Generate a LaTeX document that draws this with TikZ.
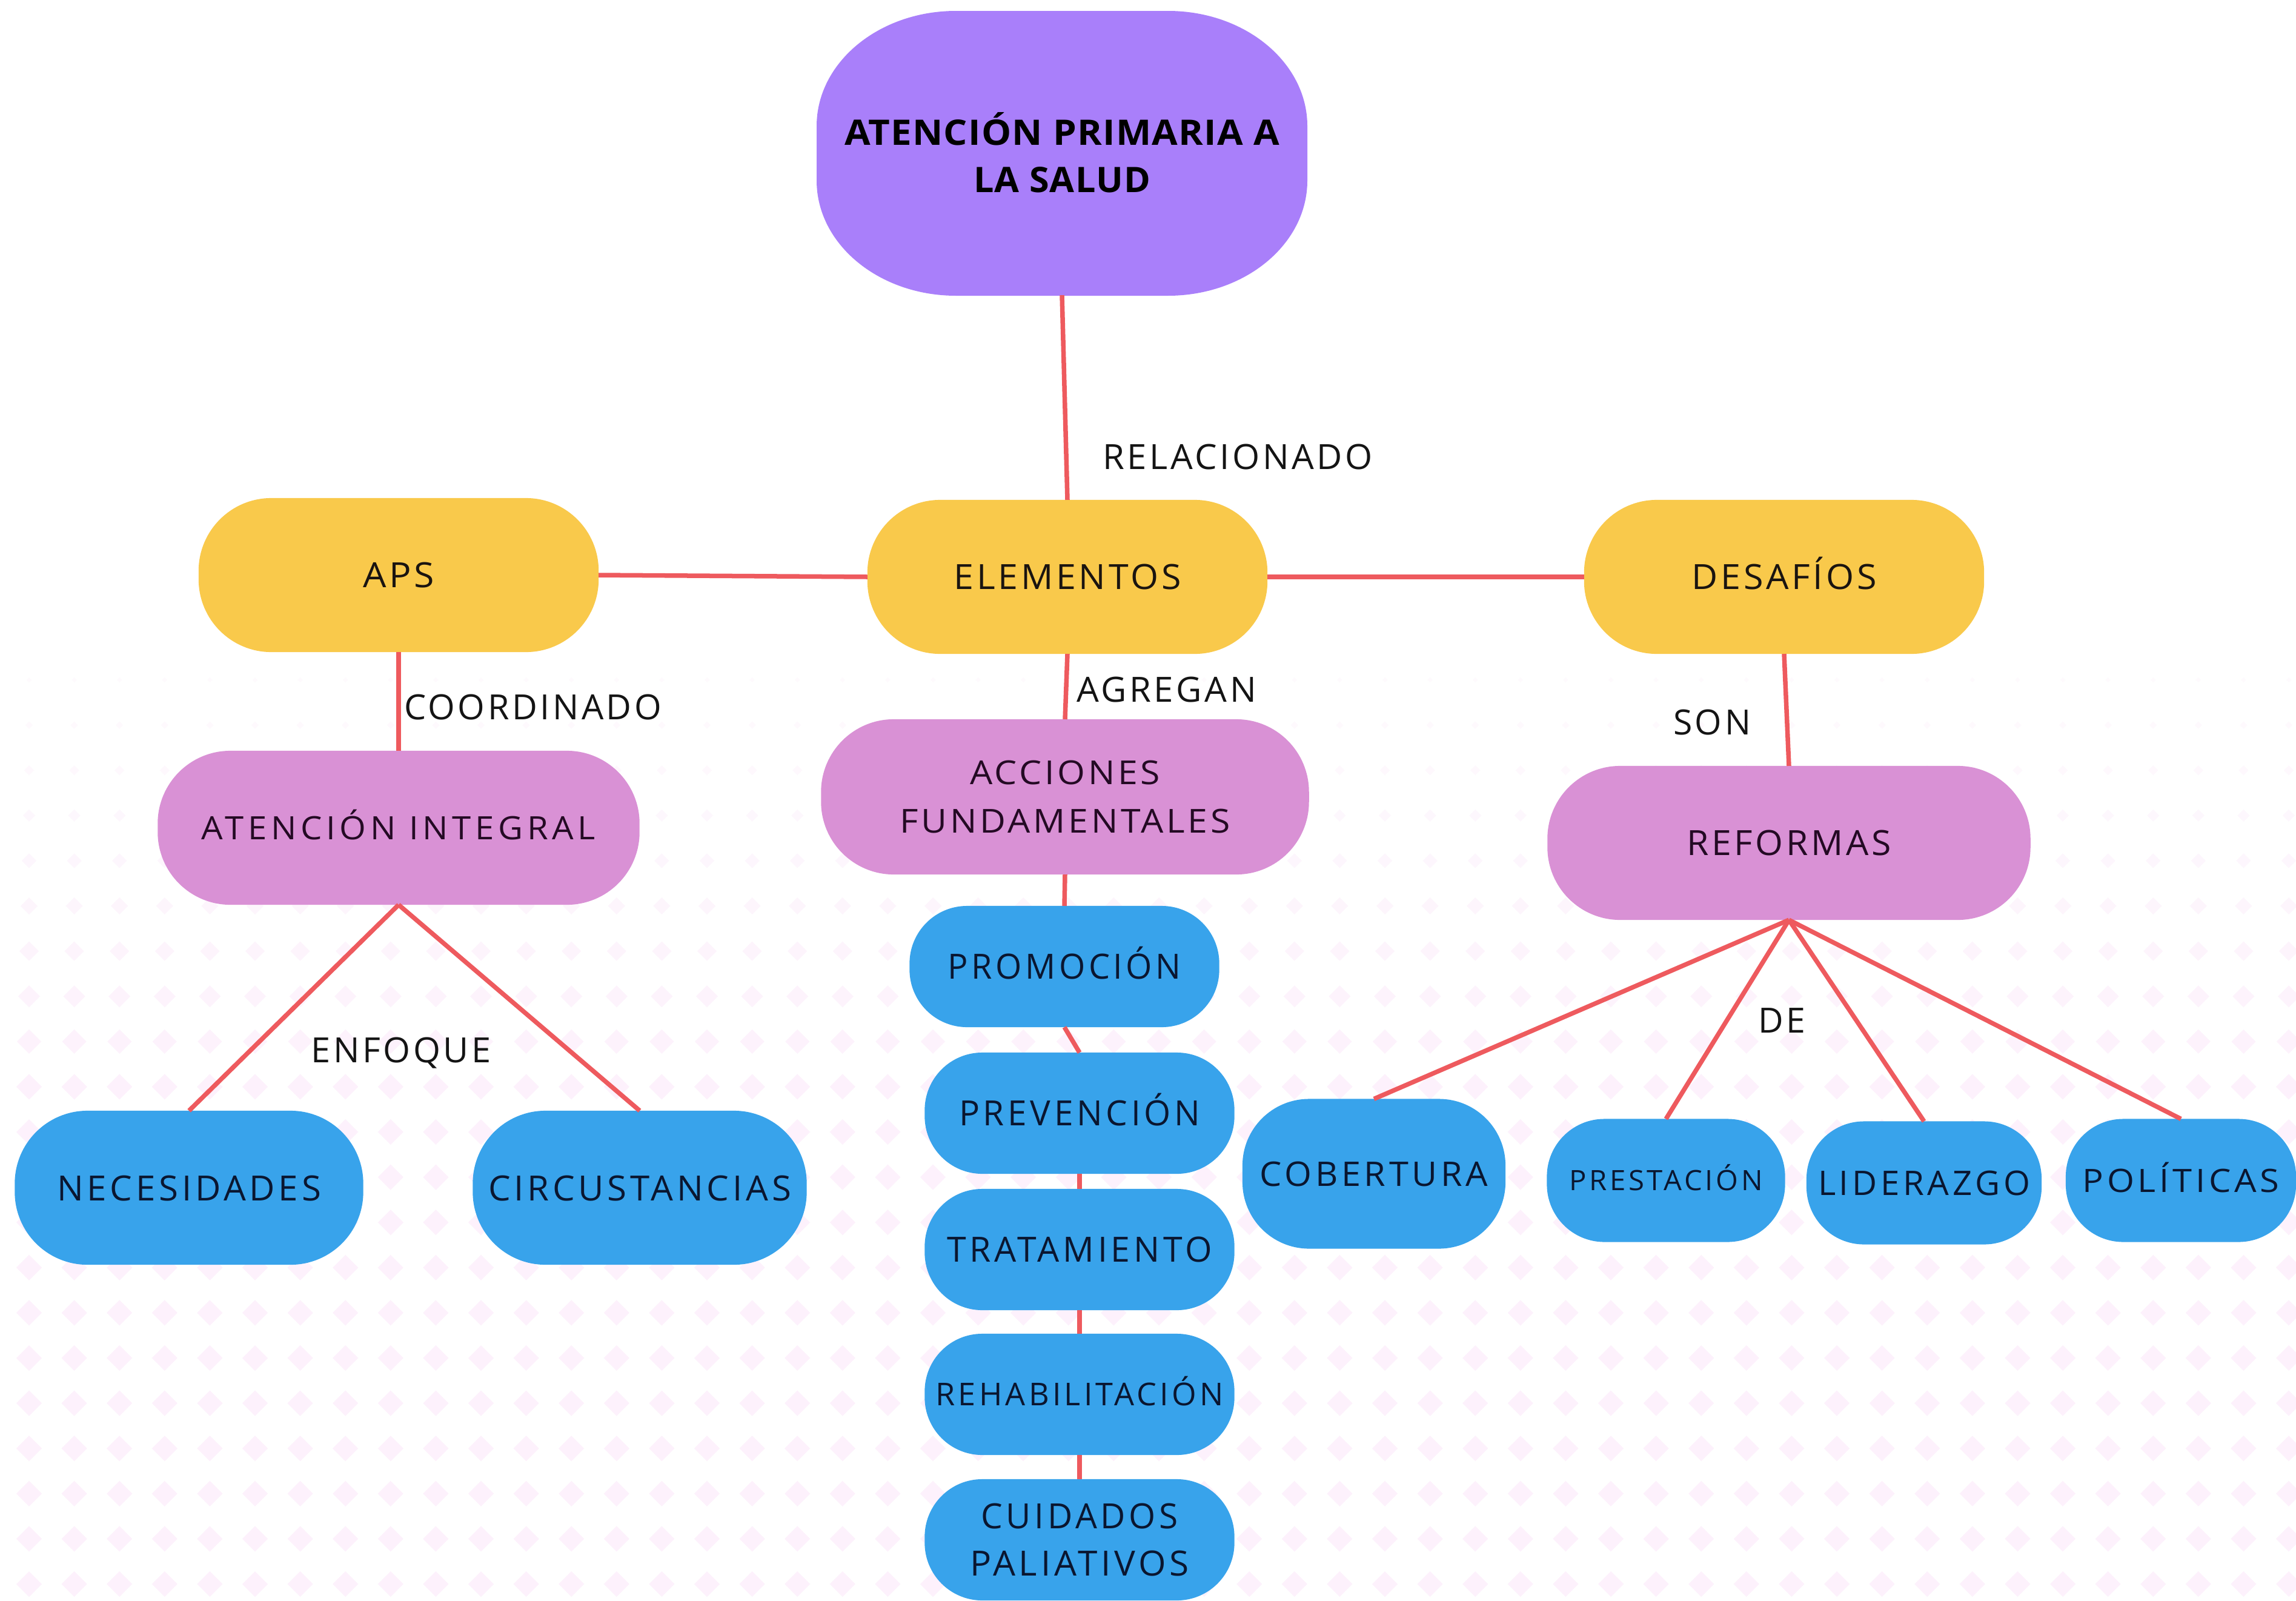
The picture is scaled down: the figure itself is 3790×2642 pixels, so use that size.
\documentclass[tikz,border=0pt]{standalone}
\usepackage{fontspec}
\setmainfont{Open Sans}
\newfontfamily\lblfont[LetterSpace=8]{Open Sans}
\newfontfamily\widefont[LetterSpace=12]{Open Sans}
\newfontfamily\bluefont[LetterSpace=10]{Open Sans}
\newfontfamily\titlefont[LetterSpace=2]{Open Sans}
\newlength\pxu \setlength\pxu{0.01cm}
\newcommand\W[2]{\resizebox{#1\pxu}{\height}{#2}}
\definecolor{cpurple}{HTML}{A97FFA}
\definecolor{cyel}{HTML}{F9C94B}
\definecolor{cpink}{HTML}{D991D5}
\definecolor{cblue}{HTML}{38A3EB}
\definecolor{cline}{HTML}{EE5A5E}
\definecolor{ctxt}{HTML}{1A1410}
\definecolor{cptxt}{HTML}{240A24}
\definecolor{cbtxt}{HTML}{0A1630}
\definecolor{cdot}{HTML}{FDF1FC}
\begin{document}
\begin{tikzpicture}[x=0.01cm,y=-0.01cm,
  every node/.style={inner sep=0pt, outer sep=0pt},
  lbl/.style={font=\lblfont\fontsize{16.3}{19}\selectfont, text=black!92, text height=0.41cm, text depth=0pt},
  pillbase/.style={rectangle, rounded corners=#1},
  ynode/.style={pillbase=1.2cm, fill=cyel, minimum width=6.6cm, minimum height=2.54cm, font=\lblfont\fontsize{16.3}{19}\selectfont, text=ctxt, text height=0.41cm, text depth=0pt},
  pnode/.style={pillbase=1.2cm, fill=cpink, minimum height=2.54cm, text=cptxt},
  bnode/.style={pillbase=#1, fill=cblue, text=cbtxt, font=\bluefont\fontsize{16.3}{22.2}\selectfont},
  one/.style={text height=#1, text depth=0pt},
  conn/.style={draw=cline, line width=0.075cm},
]
\fill[white] (0,0) rectangle (3790,2642);
\useasboundingbox (0,0) rectangle (3790,2642);
% background pattern
\foreach \j in {0,...,20}{
  \pgfmathsetmacro\s{min(21,4+2.0*\j)}
  \pgfmathsetmacro\op{min(1,0.35+0.07*\j)}
  \foreach \i in {0,...,50}{
    \fill[cdot, opacity=\op] ({48+74.6*\i},{1122+74.6*\j}) +(0,-\s) -- +(\s,0) -- +(0,\s) -- +(-\s,0) -- cycle;
  }
}
% title shape
\fill[cpurple] (1578,18) -- (1928,18) .. controls (2055,18) and (2158,103) .. (2158,208) -- (2158,298) .. controls (2158,403) and (2055,488) .. (1928,488) -- (1578,488) .. controls (1451,488) and (1348,403) .. (1348,298) -- (1348,208) .. controls (1348,103) and (1451,18) .. (1578,18) -- cycle;
\node[font=\titlefont\bfseries\fontsize{16.5}{22.2}\selectfont, text=black, align=center, minimum width=8.1cm, minimum height=4.7cm] (title) at (1753,252) {\W{718}{ATENCIÓN PRIMARIA A}\\\W{292}{LA SALUD}};
% yellow
\node[ynode] (aps) at (658,949) {\W{118}{APS}};
\node[ynode] (elem) at (1762,952) {\W{375}{ELEMENTOS}};
\node[ynode] (desa) at (2945,952) {\W{305}{DESAFÍOS}};
% pink
\node[pnode, minimum width=7.95cm, font=\widefont\fontsize{15.1}{18}\selectfont, one=0.38cm] (ai) at (658,1366) {\W{650}{ATENCIÓN INTEGRAL}};
\node[pnode, minimum width=8.05cm, minimum height=2.56cm, align=center, font=\lblfont\fontsize{15.5}{23}\selectfont] (af) at (1758,1315) {\W{314}{ACCIONES}\\\W{545}{FUNDAMENTALES}};
\node[pnode, minimum width=7.97cm, font=\lblfont\fontsize{16.3}{19}\selectfont, one=0.41cm] (ref) at (2953,1391) {\W{338}{REFORMAS}};
% blue left
\node[bnode=1.2cm, minimum width=5.75cm, minimum height=2.54cm, one=0.42cm] (nec) at (312,1960) {\W{436}{NECESIDADES}};
\node[bnode=1.2cm, minimum width=5.51cm, minimum height=2.54cm, one=0.42cm] (cir) at (1056,1960) {\W{500}{CIRCUSTANCIAS}};
% blue column
\node[bnode=0.95cm, minimum width=5.11cm, minimum height=2.0cm, one=0.41cm] (prom) at (1757,1595) {\W{385}{PROMOCIÓN}};
\node[bnode=0.95cm, minimum width=5.11cm, minimum height=2.0cm, one=0.41cm] (prev) at (1782,1837) {\W{398}{PREVENCIÓN}};
\node[bnode=0.95cm, minimum width=5.11cm, minimum height=2.0cm, one=0.41cm] (trat) at (1782,2062) {\W{438}{TRATAMIENTO}};
\node[bnode=0.95cm, minimum width=5.11cm, minimum height=2.0cm, one=0.37cm, font=\bluefont\fontsize{14.75}{18}\selectfont] (rehab) at (1782,2301) {\W{475}{REHABILITACIÓN}};
\node[bnode=0.95cm, minimum width=5.11cm, minimum height=2.0cm, align=center] (cuid) at (1782,2541) {\W{325}{CUIDADOS}\\\W{362}{PALIATIVOS}};
% blue right
\node[bnode=1.1cm, minimum width=4.34cm, minimum height=2.47cm, one=0.40cm, font=\bluefont\fontsize{15.9}{19}\selectfont] (cob) at (2268,1937) {\W{377}{COBERTURA}};
\node[bnode=0.95cm, minimum width=3.93cm, minimum height=2.03cm, one=0.33cm, font=\bluefont\fontsize{13.15}{16}\selectfont] (prest) at (2750,1948) {\W{320}{PRESTACIÓN}};
\node[bnode=0.95cm, minimum width=3.88cm, minimum height=2.03cm, one=0.40cm, font=\bluefont\fontsize{15.9}{19}\selectfont] (lid) at (3176,1952) {\W{350}{LIDERAZGO}};
\node[bnode=0.95cm, minimum width=3.80cm, minimum height=2.03cm, one=0.38cm, font=\bluefont\fontsize{15.1}{18}\selectfont] (pol) at (3600,1948) {\W{325}{POLÍTICAS}};
% labels
\node[lbl, anchor=west] (lrel) at (1820,754) {\W{446}{RELACIONADO}};
\node[lbl, anchor=west] (lcoor) at (667,1167) {\W{425}{COORDINADO}};
\node[lbl, anchor=west] (lagr) at (1777,1138) {\W{297}{AGREGAN}};
\node[lbl] (lson) at (2826,1192) {\W{128}{SON}};
\node[lbl] (lenf) at (662,1733) {\W{297}{ENFOQUE}};
\node[lbl] (lde) at (2941,1684) {\W{78}{DE}};
% connectors
\draw[conn] (title.south) -- (elem.north);
\draw[conn] (aps.east) -- (elem.west);
\draw[conn] (elem.east) -- (desa.west);
\draw[conn] (aps.south) -- (ai.north);
\draw[conn] (elem.south) -- (af.north);
\draw[conn] (desa.south) -- (ref.north);
\draw[conn] (ai.south) -- (nec.north);
\draw[conn] (ai.south) -- (cir.north);
\draw[conn] (af.south) -- (prom.north);
\draw[conn] (prom.south) -- (prev.north);
\draw[conn] (prev.south) -- (trat.north);
\draw[conn] (trat.south) -- (rehab.north);
\draw[conn] (rehab.south) -- (cuid.north);
\draw[conn] (ref.south) -- (cob.north);
\draw[conn] (ref.south) -- (prest.north);
\draw[conn] (ref.south) -- (lid.north);
\draw[conn] (ref.south) -- (pol.north);
\end{tikzpicture}
\end{document}
